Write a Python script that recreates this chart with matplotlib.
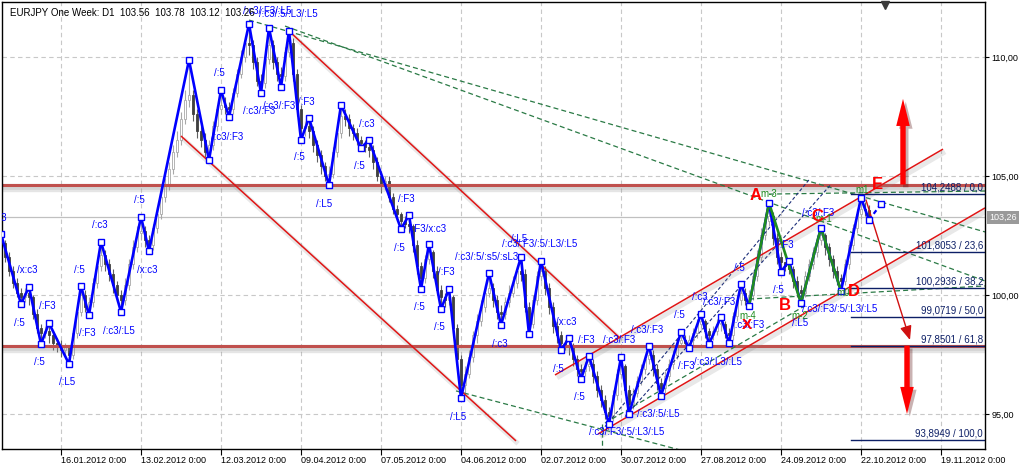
import numpy as np
import matplotlib
matplotlib.use('Agg')
import matplotlib.pyplot as plt
import matplotlib.patheffects as pe
from matplotlib.transforms import blended_transform_factory

plt.rcParams['font.family'] = ['Liberation Sans', 'DejaVu Sans']

# ---------------- data ----------------
title = "EURJPY One Week: D1  103.56  103.78  103.12  103.26"
first_bar = -15          # bar index of the first candle (16.01.2012 = bar 0)
first_open = 102.50
close = [
    102.2, 101.6, 101.0, 100.5, 100.1, 99.9, 100.1, 99.9, 99.2, 98.6,
    98.4, 98.5, 98.3, 98.0, 97.9, 97.7, 97.8, 97.5, 98.4, 99.3,
    100.0, 99.5, 99.7, 100.5, 101.2, 101.7, 101.3, 100.9, 100.4, 100.0,
    99.8, 100.4, 101.3, 102.0, 102.6, 102.7, 102.3, 102.1, 102.8, 103.4,
    104.1, 104.6, 105.3, 106.0, 106.5, 107.4, 108.2, 108.4, 107.6, 106.9,
    106.5, 106.0, 106.3, 107.1, 107.8, 108.0, 107.9, 107.8, 108.5, 109.3,
    110.0, 110.6, 110.5, 109.8, 109.0, 108.9, 109.9, 110.5, 109.8, 109.3,
    109.2, 110.2, 110.6, 109.3, 107.8, 107.0, 107.1, 106.9, 106.3, 105.9,
    105.4, 105.0, 105.1, 106.0, 106.8, 107.5, 107.4, 107.0, 106.8, 106.5,
    106.4, 106.2, 106.1, 105.6, 105.0, 104.6, 104.8, 104.1, 103.6, 103.4,
    103.1, 103.0, 102.9, 102.1, 101.2, 100.7, 101.5, 101.8, 101.0, 100.2,
    99.9, 99.8, 99.9, 98.6, 97.3, 96.2, 96.7, 97.4, 98.3, 98.9,
    99.5, 100.1, 100.3, 99.8, 99.3, 99.2, 99.7, 100.1, 100.5, 101.0,
    100.9, 99.5, 98.8, 99.8, 100.8, 101.0, 100.3, 99.5, 98.7, 98.3,
    98.0, 97.9, 97.8, 97.3, 96.9, 96.8, 97.0, 97.1, 96.6, 96.0,
    95.6, 95.1, 94.9, 95.8, 96.7, 97.0, 96.0, 95.4, 95.9, 96.4,
    96.9, 97.3, 97.5, 96.9, 96.3, 96.1, 96.6, 97.1, 97.5, 98.0,
    98.1, 98.0, 98.1, 98.4, 98.8, 98.9, 98.5, 98.3, 98.5, 98.8,
    98.8, 98.4, 98.3, 99.1, 99.8, 100.1, 99.8, 100.0, 100.8, 101.6,
    102.5, 103.1, 103.3, 102.4, 101.6, 101.4, 101.2, 101.1, 100.6, 100.2,
    100.1, 100.8, 101.3, 101.8, 102.3, 102.5, 102.0, 101.5, 101.0, 100.7,
    100.6, 101.3, 102.1, 102.8, 103.4, 103.6, 103.56, 103.26,
]
high = [
    102.56, 102.3, 101.8, 101.2, 100.7, 100.3, 100.3, 100.34, 100.0, 99.4,
    98.8, 98.7, 98.82, 98.5, 98.2, 98.1, 98.0, 97.9, 98.6, 99.5,
    100.38, 100.2, 99.9, 100.7, 101.4, 102.23, 101.9, 101.5, 101.1, 100.6,
    100.2, 100.7, 101.5, 102.3, 102.9, 103.28, 102.9, 102.5, 103.0, 103.7,
    104.4, 104.9, 105.6, 106.3, 106.9, 107.7, 108.6, 109.87, 108.6, 107.8,
    107.1, 106.8, 106.5, 107.3, 108.0, 108.61, 108.3, 108.1, 108.7, 109.5,
    110.3, 110.9, 111.39, 110.7, 110.0, 109.3, 110.1, 111.22, 110.7, 110.0,
    109.6, 110.4, 111.09, 110.8, 109.5, 108.0, 107.3, 107.44, 107.1, 106.5,
    106.1, 105.6, 105.4, 106.2, 107.0, 107.98, 107.8, 107.6, 107.2, 107.0,
    106.7, 106.5, 106.51, 106.3, 105.8, 105.2, 105.0, 105.0, 104.3, 103.8,
    103.5, 103.3, 103.36, 103.0, 102.3, 101.4, 101.7, 102.14, 101.9, 101.2,
    100.4, 100.1, 100.25, 100.0, 98.8, 97.5, 97.0, 97.7, 98.5, 99.2,
    99.8, 100.4, 100.92, 100.5, 100.0, 99.6, 99.9, 100.4, 100.8, 101.2,
    101.60, 101.1, 99.7, 100.0, 101.0, 101.43, 101.2, 100.5, 99.7, 98.9,
    98.5, 98.1, 98.19, 98.0, 97.5, 97.1, 97.2, 97.44, 97.3, 96.8,
    96.2, 95.8, 95.3, 96.0, 96.9, 97.39, 97.1, 96.2, 96.1, 96.6,
    97.1, 97.5, 97.86, 97.7, 97.1, 96.5, 96.8, 97.3, 97.7, 98.2,
    98.45, 98.3, 98.3, 98.6, 99.0, 99.20, 99.0, 98.6, 98.7, 99.0,
    99.08, 98.9, 98.6, 99.3, 100.0, 100.46, 100.3, 100.2, 101.0, 101.9,
    102.8, 103.4, 103.87, 103.5, 102.6, 101.8, 101.4, 101.43, 101.2, 100.8,
    100.4, 101.0, 101.5, 102.0, 102.5, 102.82, 102.6, 102.2, 101.7, 101.2,
    100.9, 101.5, 102.3, 103.0, 103.6, 104.08, 103.9, 103.78,
]
low = [
    101.9, 101.4, 100.8, 100.3, 99.9, 99.62, 99.7, 99.6, 99.0, 98.4,
    97.94, 98.2, 98.0, 97.7, 97.6, 97.4, 97.4, 97.10, 97.3, 98.2,
    99.1, 99.3, 99.16, 99.5, 100.3, 101.0, 101.0, 100.6, 100.1, 99.7,
    99.29, 99.6, 100.2, 101.1, 101.8, 102.3, 102.0, 101.85, 101.9, 102.6,
    103.2, 103.9, 104.4, 105.1, 105.8, 106.3, 107.2, 107.9, 107.3, 106.6,
    106.2, 105.8, 105.67, 106.1, 106.9, 107.6, 107.6, 107.48, 107.6, 108.3,
    109.1, 109.8, 110.1, 109.5, 108.8, 108.49, 108.7, 109.7, 109.5, 109.0,
    108.74, 109.0, 110.0, 109.0, 107.5, 106.51, 106.7, 106.6, 106.0, 105.6,
    105.1, 104.8, 104.62, 104.9, 105.8, 106.6, 107.1, 106.7, 106.5, 106.3,
    106.18, 106.0, 105.8, 105.3, 104.8, 104.3, 104.4, 103.9, 103.4, 103.1,
    102.77, 102.8, 102.6, 101.8, 100.9, 100.25, 100.5, 101.3, 100.7, 100.0,
    99.41, 99.5, 99.6, 98.4, 97.0, 95.67, 95.9, 96.5, 97.2, 98.0,
    98.7, 99.3, 99.9, 99.5, 99.0, 98.74, 99.0, 99.5, 99.9, 100.3,
    100.6, 99.3, 98.36, 98.6, 99.6, 100.6, 100.0, 99.2, 98.4, 98.0,
    97.69, 97.7, 97.5, 97.0, 96.6, 96.47, 96.6, 96.8, 96.3, 95.7,
    95.3, 94.8, 94.58, 94.7, 95.6, 96.5, 95.8, 95.00, 95.2, 95.7,
    96.2, 96.7, 97.1, 96.6, 96.0, 95.76, 95.9, 96.4, 96.9, 97.3,
    97.8, 97.8, 97.77, 97.9, 98.2, 98.6, 98.2, 97.94, 98.1, 98.3,
    98.5, 98.2, 97.98, 98.1, 98.9, 99.6, 99.6, 99.54, 99.8, 100.6,
    101.4, 102.3, 102.9, 102.1, 101.3, 100.97, 101.0, 100.9, 100.3, 99.9,
    99.66, 99.9, 100.6, 101.1, 101.6, 102.1, 101.7, 101.2, 100.7, 100.4,
    100.17, 100.4, 101.1, 101.9, 102.6, 103.2, 103.3, 103.12,
]
current_price = 103.26

date_ticks = [0, 20, 40, 60, 80, 100, 120, 140, 160, 180, 200, 220]
date_labels = ["16.01.2012 0:00", "13.02.2012 0:00", "12.03.2012 0:00", "09.04.2012 0:00",
               "07.05.2012 0:00", "04.06.2012 0:00", "02.07.2012 0:00", "30.07.2012 0:00",
               "27.08.2012 0:00", "24.09.2012 0:00", "22.10.2012 0:00", "19.11.2012 0:00"]
price_ticks = [95, 100, 105, 110]
price_labels = ["95,00", "100,00", "105,00", "110,00"]

# zigzag pivots
zz_bar = [-15, -10, -8, -5, -3, 2, 5, 7, 10, 15, 20, 22, 32, 37, 40, 42, 47, 50, 52, 55,
          57, 60, 62, 67, 70, 75, 77, 85, 87, 90, 92, 95, 97, 100, 107, 110, 115, 117, 120,
          125, 127, 130, 132, 137, 140, 142, 147, 150, 155, 157, 160, 162, 165, 167, 170,
          172, 177, 180, 182, 185, 190, 195, 200, 202]
zz_price = [102.56, 99.62, 100.34, 97.94, 98.82, 97.10, 100.38, 99.16, 102.23, 99.29,
            103.28, 101.85, 109.87, 105.67, 108.61, 107.48, 111.39, 108.49, 111.22, 108.74,
            111.09, 106.51, 107.44, 104.62, 107.98, 106.18, 106.51, 102.77, 103.36, 100.25,
            102.14, 99.41, 100.25, 95.67, 100.92, 98.74, 101.60, 98.36, 101.43, 97.69,
            98.19, 96.47, 97.44, 94.58, 97.39, 95.00, 97.86, 95.76, 98.45, 97.77, 99.20,
            97.94, 99.08, 97.98, 100.46, 99.54, 103.87, 100.97, 101.43, 99.66, 102.82,
            100.17, 104.08, 103.15]
proj_bar = [202, 205]
proj_price = [103.15, 103.82]

# wave count (green)
wave_bar = [172, 177, 185, 190, 195]
wave_price = [99.54, 103.87, 99.66, 102.82, 100.17]

# horizontal levels (red)
resistance = 104.64
support = 97.87

# trend channels (bar, price)
down_upper = [(57, 111.09), (139.75, 98.19)]
down_lower = [(30, 106.68), (113.75, 93.87)]
up_upper = [(123.5, 96.64), (220.5, 106.13)]
up_lower = [(134.25, 94.16), (231, 103.66)]

# dashed green lines
green_lines = [
    [(47, 111.55), (231, 102.65)],
    [(56, 111.30), (231, 100.59)],
    [(98.75, 95.97), (154.75, 93.49)],
    [(135.3, 94.6), (135.3, 93.3)],
    [(136, 94.62), (186, 99.55)],
    [(177, 104.24), (231, 104.37)],
    [(172, 99.83), (231, 100.38)],
]
navy_lines = [
    [(136, 94.47), (187.25, 104.89)],
    [(141, 94.89), (192.25, 104.60)],
]

# fibonacci levels
fib_price = [104.2488, 101.8053, 100.2936, 99.0719, 97.8501, 93.8949]
fib_pct = ["0,0", "23,6", "38,2", "50,0", "61,8", "100,0"]
fib_start = 197.5

# projection arrows
thin_arrow = [(201.25, 103.99), (212.25, 98.11)]
up_arrow = [(210.5, 104.64), (210.5, 108.24)]
down_arrow = [(211.5, 97.87), (211.5, 95.0)]

# labels
blue_text = ["/:c3", "/x:c3", "/:F3", "/:5", "/:5", "/:L5", "/:F3", "/:c3/:L5", "/:5", "/:c3",
             "/:5", "/x:c3", "/:5", "/:c3/:F3", "/:c3/:F3", "/:c3/:F3", "/:F3", "/:c3/:F3/:L5",
             "/:c3/:5/:L3/:L5", "/:5", "/:L5", "/:c3", "/:5", "/:F3", "/:F3/x:c3", "/:5", "/:F3",
             "/:5", "/:c3/:5/:s5/:sL3", "/:L5", "/:c3/:F3/:5/:L3/:L5", "/:5", "/:c3", "/:L5",
             "/x:c3", "/:F3", "/:c3/:F3", "/:c3/:F3", "/:5", "/:5", "/:c3/:5/:L5",
             "/:c3/:F3/:5/:L3/:L5", "/:5", "/:c3", "/:c3/:F3", "/:F3", "/:c3/:L3/:L5",
             "/:c3/:F3", "/:5", "/:F3", "/:5", "/:c3/:F3", "/:c3/:F3/:5/:L3/:L5", "/:L5"]
blue_bar = [-15.6, -8.5, -3.5, -10.5, -5.5, 1.5, 6.5, 14.5, 4.5, 9.75,
            19.5, 21.5, 39.5, 41.5, 49.5, 54.5, 61.25, 51.5,
            56.75, 59.5, 65.75, 76.5, 74.5, 86.25, 91.75, 84.5, 96.25,
            89.5, 106.5, 114.5, 119.75, 94.5, 109.75, 99.25,
            126.25, 131.25, 139.5, 146.5, 124.25, 129.5, 149.25,
            141.5, 154.5, 159.75, 164.5, 156.25, 164.25,
            171.75, 169.5, 181.0, 179.25, 189.25, 194.75, 184.75]
blue_price = [103.24, 101.05, 99.54, 98.82, 97.18, 96.34, 98.40, 98.49, 101.05, 102.94,
              103.99, 101.05, 109.33, 106.64, 107.73, 107.94, 108.11, 111.93,
              111.81, 105.80, 103.82, 107.18, 105.42, 104.03, 102.77, 101.97, 100.97,
              99.50, 101.60, 102.35, 102.14, 98.66, 97.94, 94.87,
              98.87, 98.11, 98.11, 98.53, 96.89, 95.71, 95.0,
              94.24, 99.16, 99.92, 99.71, 97.02, 97.18,
              98.74, 101.13, 102.10, 100.21, 103.45, 99.41, 98.82]

green_text = ["m-4", "m-3", "m-2", "m-1", "m0", "m1"]
green_bar = [171.75, 177.0, 184.75, 190.75, 195.5, 200.25]
green_price = [99.12, 104.24, 99.12, 103.19, 100.08, 104.41]

red_text = ["A", "B", "C", "D", "E", "X"]
red_bar = [173.75, 181.0, 189.0, 198.25, 204.0, 171.5]
red_price = [104.16, 99.54, 103.28, 100.13, 104.66, 98.74]

# ---------------- figure ----------------
W, H = 1022, 465
fig = plt.figure(figsize=(W / 100, H / 100), dpi=100)
ax = fig.add_axes([2 / W, (H - 449) / H, 983 / W, 447 / H])
ax.set_xlim(-14.75, 231)
ax.set_ylim(93.53, 112.31)

ax.set_xticks(date_ticks)
ax.set_xticklabels(date_labels)
for lb in ax.get_xticklabels():
    lb.set_ha('left')
ax.yaxis.tick_right()
ax.set_yticks(price_ticks)
ax.set_yticklabels(price_labels)
ax.tick_params(axis='x', direction='out', length=4, pad=1, labelsize=6.5, width=0.8)
ax.tick_params(axis='y', direction='out', length=3, pad=1.5, labelsize=6.5, width=0.8)
ax.grid(True, ls=(0, (4, 3)), color='#c8c8c8', lw=0.8, zorder=0)
ax.set_axisbelow(True)
for s in ax.spines.values():
    s.set_color('black')
    s.set_linewidth(1.0)

# candles
c = np.array(close)
hi = np.array(high)
lo = np.array(low)
bars = np.arange(first_bar, first_bar + len(c))
op = np.r_[first_open, c[:-1]]
up = c >= op
ax.vlines(bars[up], lo[up], hi[up], color='#a8a8a8', lw=0.8, zorder=1)
ax.vlines(bars[~up], lo[~up], hi[~up], color='#606060', lw=0.8, zorder=1)
ax.bar(bars[up], np.maximum(c[up] - op[up], 0.03), bottom=op[up], width=0.6,
       facecolor='white', edgecolor='#a8a8a8', lw=0.6, zorder=1.1)
ax.bar(bars[~up], np.minimum(c[~up] - op[~up], -0.03), bottom=op[~up], width=0.6,
       facecolor='#404040', edgecolor='#404040', lw=0.6, zorder=1.1)

# current price line
ax.axhline(current_price, color='#c0c0c0', lw=0.9, zorder=0.8)

soft_shadow = [pe.SimpleLineShadow(offset=(1, -2.5), shadow_color='0.55', alpha=0.22, linewidth=6),
               pe.SimpleLineShadow(offset=(1, -2), shadow_color='0.55', alpha=0.18, linewidth=3.5),
               pe.Normal()]
thin_shadow = [pe.SimpleLineShadow(offset=(1.5, -2), shadow_color='0.55', alpha=0.2, linewidth=3.5),
               pe.Normal()]

# horizontal red levels
for lvl in (resistance, support):
    ax.axhline(lvl, color='#c0504d', lw=2.2, zorder=2, path_effects=soft_shadow)

# channels
for ln in (down_upper, down_lower, up_upper, up_lower):
    (x0, y0), (x1, y1) = ln
    ax.plot([x0, x1], [y0, y1], color='#e01515', lw=1.1, zorder=2.2,
            path_effects=thin_shadow, solid_capstyle='butt')

for ln in green_lines:
    (x0, y0), (x1, y1) = ln
    ax.plot([x0, x1], [y0, y1], color='#2a7a45', lw=0.9, ls=(0, (4, 2.5)), zorder=2.1)
for ln in navy_lines:
    (x0, y0), (x1, y1) = ln
    ax.plot([x0, x1], [y0, y1], color='#1c2e7a', lw=0.8, ls=(0, (3, 2)), zorder=2.1)

# fibonacci
trans = blended_transform_factory(ax.transAxes, ax.transData)
for p, pct in zip(fib_price, fib_pct):
    ax.plot([fib_start, 231], [p, p], color='#0d1f66', lw=1.0, zorder=2.3)
    ax.text(0.998, p + 0.06, f"{p:.4f}".replace('.', ',') + " / " + pct, transform=trans,
            ha='right', va='bottom', fontsize=7, color='#0d1f66', zorder=6)

# zigzag
ax.plot(zz_bar, zz_price, color='#0000ff', lw=1.9, zorder=3)
ax.plot(proj_bar, proj_price, color='#0000ff', lw=1.6, ls=(0, (2, 1.5)), zorder=3)
ax.plot(wave_bar, wave_price, color='#1f8c1f', lw=1.9, zorder=3.2)
ax.plot(zz_bar + proj_bar[1:], zz_price + proj_price[1:], ls='none', marker='s', ms=4.3,
        mfc='white', mec='#0000ff', mew=1.0, zorder=4)

# arrows
(tx0, ty0), (tx1, ty1) = thin_arrow
ax.annotate('', xy=(tx1, ty1), xytext=(tx0, ty0),
            arrowprops=dict(arrowstyle='-|>,head_length=0.6,head_width=0.25', color='#d01010',
                            lw=1.0, shrinkA=0, shrinkB=0, mutation_scale=14), zorder=2.5)
for arr in (up_arrow, down_arrow):
    (ax0, ay0), (ax1, ay1) = arr
    a = ax.annotate('', xy=(ax1, ay1), xytext=(ax0, ay0),
                    arrowprops=dict(arrowstyle='simple,head_length=1.0,head_width=0.5,tail_width=0.2',
                                    color='#ff0000', lw=0, shrinkA=0, shrinkB=0, mutation_scale=19.5),
                    zorder=5)
    a.arrow_patch.set_path_effects([pe.withSimplePatchShadow(offset=(2, -2), alpha=0.3)])

# labels
for t, x, y in zip(blue_text, blue_bar, blue_price):
    ax.text(x, y, t, color='#0000ff', fontsize=7, ha='center', va='center', zorder=5, clip_on=True)
for t, x, y in zip(green_text, green_bar, green_price):
    ax.text(x, y, t, color='#1f8c1f', fontsize=7, ha='center', va='center', zorder=5)
for t, x, y in zip(red_text, red_bar, red_price):
    ax.text(x, y, t, color='#ff0000', fontsize=12 if t != 'X' else 11, fontweight='bold',
            ha='center', va='center', zorder=6)

# top marker
ax.plot([206], [112.18], marker='v', ms=6, color='#3a3a3a', clip_on=False, zorder=7)

# title
ax.text(8 / 983, 1 - 6 / 447, title, transform=ax.transAxes, ha='left', va='top',
        fontsize=7, color='black', zorder=7)

# current price tag
ax.text(1.0 + 4 / 983, current_price, f"{current_price:.2f}".replace('.', ','), transform=trans,
        ha='left', va='center', fontsize=6.5, color='white', clip_on=False,
        bbox=dict(boxstyle='square,pad=0.25', fc='#9a9a9a', ec='none'), zorder=7)

fig.savefig('out.png', dpi=100)
